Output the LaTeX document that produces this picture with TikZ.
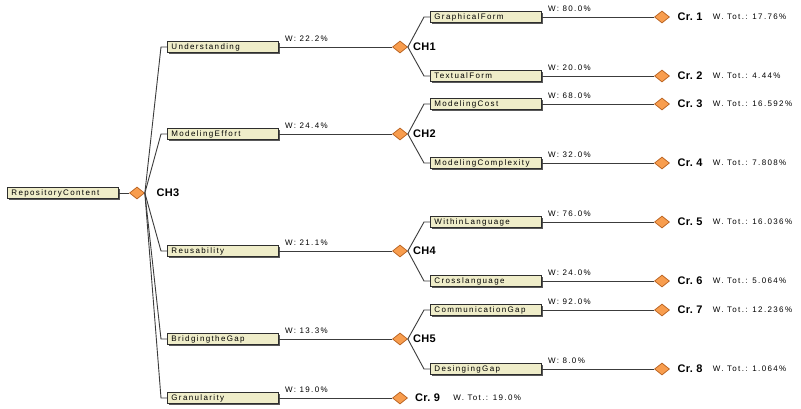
\documentclass[tikz,border=0pt]{standalone}
\usepackage{fontspec}
\setmainfont{Liberation Sans}
\newfontfamily\smallfont[LetterSpace=17]{Liberation Sans}
\newfontfamily\boldfont[LetterSpace=3]{Liberation Sans Bold}
\usetikzlibrary{shapes.geometric,shadows}

\definecolor{boxfill}{HTML}{EFEDC9}
\definecolor{boxline}{HTML}{2E2E2E}
\definecolor{diafill}{HTML}{F89D4E}
\definecolor{dialine}{HTML}{B8611F}
\definecolor{wire}{HTML}{3C3C3C}

\tikzset{
  cbox/.style={rectangle, draw=boxline, line width=0.8pt, fill=boxfill,
    minimum height=11pt, text width=103pt, inner xsep=4pt, inner ysep=0pt,
    align=left, anchor=west,
    font=\smallfont\fontsize{8}{9}\selectfont,
    drop shadow={shadow xshift=1.2pt, shadow yshift=-1.2pt, opacity=1, fill=black!65}},
  dia/.style={diamond, draw=dialine, line width=0.7pt, fill=diafill,
    minimum width=15pt, minimum height=12pt, inner sep=0pt},
  conn/.style={draw=wire, line width=0.9pt},
  wlab/.style={anchor=west, inner sep=0pt, font=\smallfont\fontsize{8}{9}\selectfont},
  chlab/.style={anchor=west, inner sep=0pt, font=\boldfont\fontsize{11}{12}\selectfont},
}

\begin{document}
\begin{tikzpicture}[x=1pt, y=-1pt]
\path[use as bounding box, fill=white] (0,0) rectangle (801,408);

% root of the tree
\node[cbox] (root) at (7,193) {RepositoryContent};
\node[dia] (d0) at (137,193) {};
\node[chlab] at ([xshift=11.5pt]d0.east) {CH3};
\draw[conn] (root.east) -- (d0.west);

% first level
\node[cbox] (b1) at (167,47)  {Understanding};
\node[cbox] (b2) at (167,134) {ModelingEffort};
\node[cbox] (b3) at (167,251) {Reusability};
\node[cbox] (b4) at (167,339) {BridgingtheGap};
\node[cbox] (b5) at (167,398) {Granularity};

\foreach \b in {b1,b2,b3,b4,b5}
  \draw[conn] (d0.east) -- ([xshift=-6pt]\b.west) -- (\b.west);

\node[dia] (ch1) at (400,47)  {};
\node[dia] (ch2) at (400,134) {};
\node[dia] (ch4) at (400,251) {};
\node[dia] (ch5) at (400,339) {};
\node[dia] (c9)  at (400,398) {};

\draw[conn] (b1.east) -- (ch1.west);
\draw[conn] (b2.east) -- (ch2.west);
\draw[conn] (b3.east) -- (ch4.west);
\draw[conn] (b4.east) -- (ch5.west);
\draw[conn] (b5.east) -- (c9.west);

\node[wlab] at ([xshift=6pt, yshift=8pt]b1.east) {W: 22.2\%};
\node[wlab] at ([xshift=6pt, yshift=8pt]b2.east) {W: 24.4\%};
\node[wlab] at ([xshift=6pt, yshift=8pt]b3.east) {W: 21.1\%};
\node[wlab] at ([xshift=6pt, yshift=8pt]b4.east) {W: 13.3\%};
\node[wlab] at ([xshift=6pt, yshift=8pt]b5.east) {W: 19.0\%};

\node[chlab] at ([xshift=5pt]ch1.east) {CH1};
\node[chlab] at ([xshift=5pt]ch2.east) {CH2};
\node[chlab] at ([xshift=5pt]ch4.east) {CH4};
\node[chlab] at ([xshift=5pt]ch5.east) {CH5};
\node[chlab] (l9) at ([xshift=7pt]c9.east) {Cr.~9};
\node[wlab] at ([xshift=13pt]l9.east) {W. Tot.: 19.0\%};

% second level
\foreach \name/\y/\parent/\txt/\w/\cr/\tot in {
  g1/17/ch1/GraphicalForm/80.0/1/17.76,
  g2/76/ch1/TextualForm/20.0/2/4.44,
  g3/104/ch2/ModelingCost/68.0/3/16.592,
  g4/163/ch2/ModelingComplexity/32.0/4/7.808,
  g5/222/ch4/WithinLanguage/76.0/5/16.036,
  g6/281/ch4/Crosslanguage/24.0/6/5.064,
  g7/310/ch5/CommunicationGap/92.0/7/12.236,
  g8/369/ch5/DesingingGap/8.0/8/1.064}{
  \node[cbox] (\name) at (430,\y) {\txt};
  \draw[conn] (\parent.east) -- ([xshift=-6pt]\name.west) -- (\name.west);
  \node[dia] (k\name) at (662,\y) {};
  \draw[conn] (\name.east) -- (k\name.west);
  \node[wlab] at ([xshift=6pt, yshift=8pt]\name.east) {W: \w\%};
  \node[chlab] (l\name) at ([xshift=7.5pt]k\name.east) {Cr.~\cr};
  \node[wlab] at ([xshift=10pt]l\name.east) {W. Tot.: \tot\%};
}
\end{tikzpicture}
\end{document}
